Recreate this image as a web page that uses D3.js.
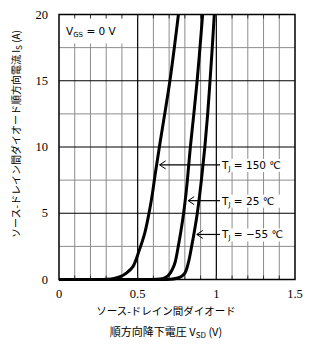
<!DOCTYPE html>
<html>
<head>
<meta charset="utf-8">
<script src="https://cdn.jsdelivr.net/npm/d3@7"></script>
<style>
  body { margin: 0; background: #fff; }
  svg { display: block; }
</style>
</head>
<body>
<div id="chart"></div>
<script>
// forward voltage V_SD (V) vs source current I_S (A) for each junction temperature
const vsd150 = [0, 0.25, 0.30, 0.35, 0.39, 0.43, 0.47, 0.51, 0.545, 0.572, 0.594, 0.612, 0.638, 0.672, 0.705, 0.733, 0.759];
const is150  = [0, 0, 0.02, 0.08, 0.21, 0.5, 0.97, 2.2, 3.5, 5.0, 6.5, 8.0, 10.0, 12.5, 15.0, 17.5, 20];

const vsd25 = [0, 0.55, 0.62, 0.663, 0.69, 0.708, 0.724, 0.738, 0.758, 0.776, 0.792, 0.805, 0.816, 0.835, 0.857, 0.878, 0.896, 0.913];
const is25  = [0, 0, 0.01, 0.09, 0.25, 0.5, 0.85, 1.3, 2.5, 3.74, 5.0, 6.25, 7.5, 10, 12.5, 15, 17.5, 20];

const vsdM55 = [0, 0.65, 0.71, 0.748, 0.78, 0.801, 0.822, 0.843, 0.862, 0.879, 0.905, 0.927, 0.945, 0.96, 0.974, 0.987];
const isM55  = [0, 0, 0.01, 0.09, 0.25, 0.5, 1.25, 2.5, 3.74, 5.0, 7.5, 10, 12.5, 15, 17.5, 20];

const xTicks = [0, 0.5, 1, 1.5];
const xTickLabels = ["0", "0.5", "1", "1.5"];
const yTicks = [0, 5, 10, 15, 20];

// label: temperature text, current at which arrow sits
const labelTemps = ["150", "25", "\u221255"];
const labelCurrents = [8.65, 5.95, 3.4];

const W = 316, H = 349;
const margin = { top: 14.5, right: 21, bottom: 69.5, left: 59 };
const width = W - margin.left - margin.right,
      height = H - margin.top - margin.bottom;

const svg = d3.select("#chart").append("svg")
  .attr("width", W)
  .attr("height", H);

const g = svg.append("g")
  .attr("transform", `translate(${margin.left},${margin.top})`);

const x = d3.scaleLinear().domain([0, 1.5]).range([0, width]);
const y = d3.scaleLinear().domain([0, 20]).range([height, 0]);

// minor grid
g.append("g").selectAll("line")
  .data(d3.range(0.1, 1.5, 0.1).filter(v => Math.abs(v * 2 - Math.round(v * 2)) > 1e-6))
  .enter().append("line")
  .attr("x1", d => x(d)).attr("x2", d => x(d))
  .attr("y1", 0).attr("y2", height)
  .attr("stroke", "#8c8c8c").attr("stroke-width", 1);

g.append("g").selectAll("line")
  .data([2.5, 7.5, 12.5, 17.5])
  .enter().append("line")
  .attr("x1", 0).attr("x2", width)
  .attr("y1", d => y(d)).attr("y2", d => y(d))
  .attr("stroke", "#8c8c8c").attr("stroke-width", 1);

// white box behind V_GS note
g.append("rect")
  .attr("x", 1).attr("y", 1)
  .attr("width", x(0.47) - 1).attr("height", 28)
  .attr("fill", "#fff");

// major grid
g.append("g").selectAll("line")
  .data([0.5, 1])
  .enter().append("line")
  .attr("x1", d => x(d)).attr("x2", d => x(d))
  .attr("y1", 0).attr("y2", height)
  .attr("stroke", "#000").attr("stroke-width", 1.2);

g.append("g").selectAll("line")
  .data([5, 10, 15])
  .enter().append("line")
  .attr("x1", 0).attr("x2", width)
  .attr("y1", d => y(d)).attr("y2", d => y(d))
  .attr("stroke", "#000").attr("stroke-width", 1.2);

// inner ticks on frame
const tickLen = 4;
const minorX = d3.range(1, 15).map(i => i / 10);
g.append("g").selectAll("line")
  .data(minorX)
  .enter().append("line")
  .attr("x1", d => x(d)).attr("x2", d => x(d))
  .attr("y1", 0).attr("y2", tickLen)
  .attr("stroke", "#333");
g.append("g").selectAll("line")
  .data(minorX)
  .enter().append("line")
  .attr("x1", d => x(d)).attr("x2", d => x(d))
  .attr("y1", height - tickLen).attr("y2", height)
  .attr("stroke", "#333");

// frame
g.append("rect")
  .attr("x", 0).attr("y", 0)
  .attr("width", width).attr("height", height)
  .attr("fill", "none")
  .attr("stroke", "#000").attr("stroke-width", 1.5);

// curves
const line = d3.line()
  .x(d => x(d[0]))
  .y(d => y(d[1]))
  .curve(d3.curveCatmullRom.alpha(0.5));

const curves = [[vsd150, is150], [vsd25, is25], [vsdM55, isM55]];
curves.forEach(([vs, is]) => {
  g.append("path")
    .datum(vs.map((v, i) => [v, is[i]]))
    .attr("fill", "none")
    .attr("stroke", "#000")
    .attr("stroke-width", 3)
    .attr("stroke-linejoin", "round")
    .attr("d", line);
});

// temperature labels with arrows
const textX = 163;
labelCurrents.forEach((cur, i) => {
  const [vs, is] = curves[i];
  // find V on curve at this current
  let vAt = vs[vs.length - 1];
  for (let k = 1; k < is.length; k++) {
    if (is[k] >= cur && is[k - 1] < cur) {
      const t = (cur - is[k - 1]) / (is[k] - is[k - 1]);
      vAt = vs[k - 1] + t * (vs[k] - vs[k - 1]);
      break;
    }
  }
  const tipX = x(vAt) + 3, yy = y(cur);
  g.append("rect")
    .attr("x", textX - 2).attr("y", yy - 6)
    .attr("width", 66).attr("height", 13)
    .attr("fill", "#fff");
  g.append("line")
    .attr("x1", tipX).attr("x2", textX - 2)
    .attr("y1", yy).attr("y2", yy)
    .attr("stroke", "#000").attr("stroke-width", 1.2);
  g.append("path")
    .attr("d", `M${tipX + 6},${yy - 4}L${tipX},${yy}L${tipX + 6},${yy + 4}`)
    .attr("fill", "none").attr("stroke", "#000").attr("stroke-width", 1);
  const t = g.append("text")
    .attr("x", textX).attr("y", yy + 4)
    .attr("font-family", "'DejaVu Sans', sans-serif")
    .attr("font-size", "10.5px")
    .attr("fill", "#000");
  t.append("tspan").text("T");
  t.append("tspan").attr("font-size", "7px").attr("dy", 2).text("J");
  t.append("tspan").attr("dy", -2).text(` = ${labelTemps[i]} \u2103`);
});

// V_GS note
const vgs = g.append("text")
  .attr("x", 7).attr("y", 20)
  .attr("font-family", "'DejaVu Sans', sans-serif")
  .attr("font-size", "10.5px")
  .attr("fill", "#000");
vgs.append("tspan").text("V");
vgs.append("tspan").attr("font-size", "7px").attr("dy", 2).text("GS");
vgs.append("tspan").attr("dy", -2).text(" = 0 V");

// tick labels
g.append("g").selectAll("text")
  .data(xTicks)
  .enter().append("text")
  .attr("x", d => x(d))
  .attr("y", height + 18)
  .attr("text-anchor", "middle")
  .attr("font-family", "'Liberation Serif', serif")
  .attr("font-size", "12.5px")
  .text((d, i) => xTickLabels[i]);

g.append("g").selectAll("text")
  .data(yTicks)
  .enter().append("text")
  .attr("x", -11)
  .attr("y", d => y(d) + 4)
  .attr("text-anchor", "end")
  .attr("font-family", "'Liberation Serif', serif")
  .attr("font-size", "12.5px")
  .text(d => d);

// axis titles
const jp = "'Noto Sans CJK JP', sans-serif";
svg.append("text")
  .attr("x", 166).attr("y", 315)
  .attr("text-anchor", "middle")
  .attr("font-family", jp)
  .attr("font-size", "10.5px")
  .text("ソース-ドレイン間ダイオード");

const xt = svg.append("text")
  .attr("x", 166).attr("y", 336)
  .attr("text-anchor", "middle")
  .attr("font-family", jp)
  .attr("font-size", "11px");
xt.append("tspan").text("順方向降下電圧 V");
xt.append("tspan").attr("font-size", "8px").attr("dy", 2).text("SD");
xt.append("tspan").attr("dy", -2).text(" (V)");

const yt = svg.append("text")
  .attr("transform", "translate(20,134) rotate(-90)")
  .attr("text-anchor", "middle")
  .attr("font-family", jp)
  .attr("font-size", "10px");
yt.append("tspan").text("ソース-ドレイン間ダイオード順方向電流 I");
yt.append("tspan").attr("font-size", "8px").attr("dy", 2).text("S");
yt.append("tspan").attr("dy", -2).text(" (A)");
</script>
</body>
</html>
